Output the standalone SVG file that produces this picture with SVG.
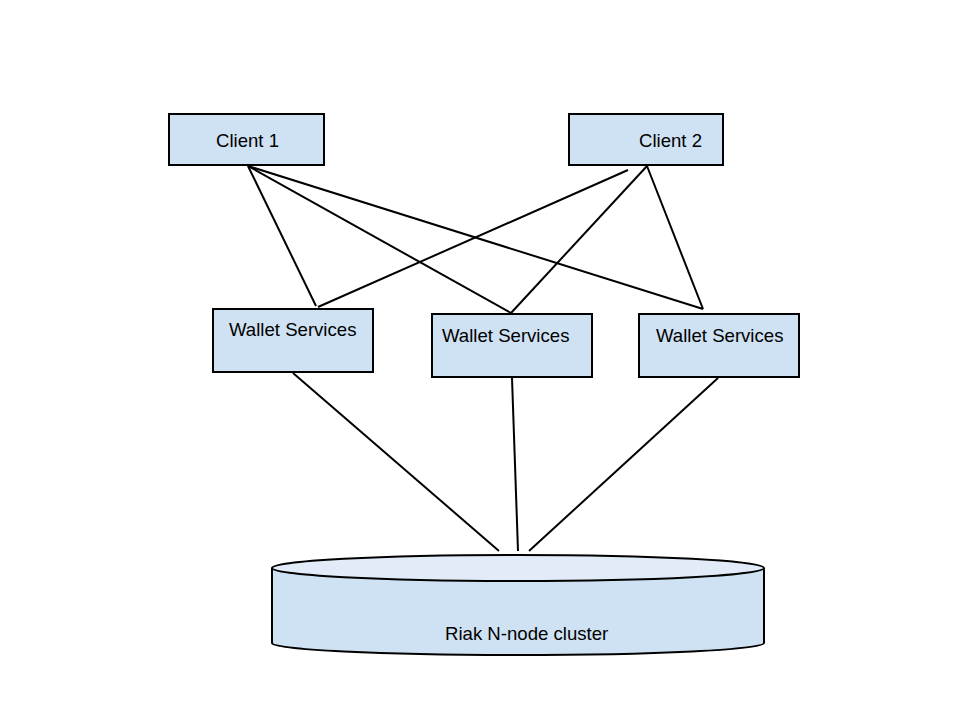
<svg xmlns="http://www.w3.org/2000/svg" width="960" height="720" viewBox="0 0 960 720">
<style>
.box{fill:#cfe2f3;stroke:#000;stroke-width:2}
.lbl{font-family:"Liberation Sans",Arial,sans-serif;font-size:18.6px;fill:#000}
.ln{stroke:#000;stroke-width:2;fill:none}
</style>
<rect width="960" height="720" fill="#fff"/>
<g id="connectors">
<line class="ln" x1="248" y1="166" x2="316" y2="306"/>
<line class="ln" x1="248" y1="166" x2="511" y2="313"/>
<line class="ln" x1="248" y1="166" x2="703" y2="309"/>
<line class="ln" x1="628" y1="170" x2="318" y2="307"/>
<line class="ln" x1="647" y1="166" x2="511" y2="313"/>
<line class="ln" x1="647" y1="166" x2="703" y2="309"/>
<line class="ln" x1="293" y1="373" x2="499" y2="551"/>
<line class="ln" x1="512" y1="378" x2="518" y2="551"/>
<line class="ln" x1="718" y1="378" x2="529" y2="551"/>
</g>
<g id="client1">
<rect class="box" x="169" y="114" width="155" height="51"/>
<text class="lbl" x="216" y="147">Client 1</text>
</g>
<g id="client2">
<rect class="box" x="569" y="114" width="154" height="51"/>
<text class="lbl" x="639" y="147">Client 2</text>
</g>
<g id="wallet1">
<rect class="box" x="213" y="309" width="160" height="63"/>
<text class="lbl" x="229" y="336">Wallet Services</text>
</g>
<g id="wallet2">
<rect class="box" x="432" y="314" width="160" height="63"/>
<text class="lbl" x="442" y="342">Wallet Services</text>
</g>
<g id="wallet3">
<rect class="box" x="639" y="314" width="160" height="63"/>
<text class="lbl" x="656" y="342">Wallet Services</text>
</g>
<g id="riak">
<path d="M272,568 L272,643 A246,12 0 0 0 764,643 L764,568" fill="#cfe2f3" stroke="#000" stroke-width="2"/>
<ellipse cx="518" cy="568" rx="246" ry="13" fill="#e1ecf8" stroke="#000" stroke-width="2"/>
<text class="lbl" x="445" y="640">Riak N-node cluster</text>
</g>
</svg>
